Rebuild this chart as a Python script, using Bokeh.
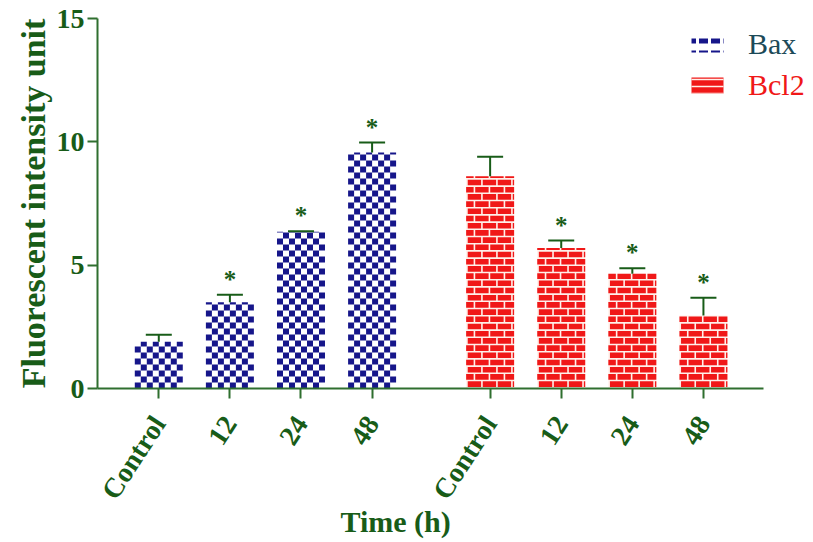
import math
from bokeh.plotting import figure
from bokeh.models import (Range1d, FixedTicker, Whisker, ColumnDataSource, Legend,
                          LegendItem, TeeHead, Title)
from bokeh.core.properties import value
from bokeh.embed import file_html
from bokeh.resources import INLINE

# ---- data ----
times = ["Control", "12", "24", "48"]
bax_mean = [1.9, 3.5, 6.35, 9.57]
bax_err = [0.28, 0.30, 0.03, 0.40]
bax_sig = [False, True, True, True]
bcl2_mean = [8.6, 5.7, 4.65, 2.96]
bcl2_err = [0.80, 0.30, 0.23, 0.72]
bcl2_sig = [False, True, True, True]

# ---- layout / style ----
W, H = 813, 542
LEFT, RIGHT, TOP, BOTTOM = 97, 0, 18, 154
X0, X1 = -0.862, 9.208
Y0, Y1 = 0, 15
GAP = 4.66
BW = 0.675
bax_x = [float(i) for i in range(len(times))]
bcl2_x = [i + GAP for i in range(len(times))]

GREEN = "#185c18"
AXIS_GREEN = "#2f6f2f"
BLUE = "#16168a"
RED = "#f01818"
MORTAR = "#fff0ea"
FONT = "Liberation Serif"

ppx = (W - LEFT - RIGHT) / (X1 - X0)   # pixels per x unit
ppy = (H - TOP - BOTTOM) / (Y1 - Y0)   # pixels per y unit


def checker_cells(xs, tops, cell=6.0):
    """blue squares of a checkerboard fill, clipped to each bar"""
    L, R, B, T = [], [], [], []
    cx, cy = cell / ppx, cell / ppy
    for x, v in zip(xs, tops):
        left = x - BW / 2
        ncol = int(round(BW / cx))
        nrow = int(math.ceil(v / cy))
        for r in range(nrow):
            b = r * cy
            t = min((r + 1) * cy, v)
            for c in range(ncol):
                if (r + c) % 2 == 0:
                    l = left + c * cx
                    L.append(l); R.append(min(l + cx, x + BW / 2)); B.append(b); T.append(t)
    return L, R, B, T


def brick_cells(xs, tops, row=7.2, blen=15.0, mortar=1.6):
    """red bricks of a brick-wall fill, clipped to each bar"""
    L, R, B, T = [], [], [], []
    ry, bx = row / ppy, blen / ppx
    my, mx = mortar / ppy, mortar / ppx
    for x, v in zip(xs, tops):
        left, right = x - BW / 2, x + BW / 2
        nrow = int(math.ceil(v / ry))
        for r in range(nrow):
            b = r * ry + my
            t = min((r + 1) * ry, v)
            if t <= b:
                continue
            off = 0.0 if r % 2 == 0 else bx / 2
            k = 0
            while True:
                s = left - bx + off + k * bx
                if s > right:
                    break
                l, rr = max(s + mx, left), min(s + bx, right)
                if rr > l:
                    L.append(l); R.append(rr); B.append(b); T.append(t)
                k += 1
    return L, R, B, T


p = figure(width=W, height=H, output_backend="svg", toolbar_location=None,
           x_range=Range1d(X0, X1), y_range=Range1d(Y0, Y1),
           min_border_left=LEFT, min_border_right=RIGHT, min_border_top=TOP,
           min_border_bottom=BOTTOM)
p.outline_line_color = None
p.xgrid.visible = False
p.ygrid.visible = False
p.background_fill_color = "white"

bax_src = ColumnDataSource(dict(x=bax_x, top=bax_mean, up=[m + e for m, e in zip(bax_mean, bax_err)]))
bcl2_src = ColumnDataSource(dict(x=bcl2_x, top=bcl2_mean, up=[m + e for m, e in zip(bcl2_mean, bcl2_err)]))

# bars
p.vbar(x="x", top="top", width=BW, source=bax_src, fill_color="white", line_color=None)
l, r, b, t = checker_cells(bax_x, bax_mean)
p.quad(left=l, right=r, bottom=b, top=t, fill_color=BLUE, line_color=None)

p.vbar(x="x", top="top", width=BW, source=bcl2_src, fill_color=MORTAR, line_color=None)
l, r, b, t = brick_cells(bcl2_x, bcl2_mean)
p.quad(left=l, right=r, bottom=b, top=t, fill_color=RED, line_color=None)

# legend-only renderers (patterned swatches)
bax_leg = p.vbar(x="x", top="top", width=BW, source=bax_src, fill_color="white", line_color=None,
                 hatch_pattern='"', hatch_color=BLUE, hatch_weight=5, hatch_scale=12, visible=False)
bcl2_leg1 = p.vbar(x="x", top="top", width=BW, source=bcl2_src, fill_color=RED, line_color=None,
                   hatch_pattern="-", hatch_color=MORTAR, hatch_weight=1.5, hatch_scale=7, visible=False)

# error bars
for src in (bax_src, bcl2_src):
    w = Whisker(base="x", lower="top", upper="up", source=src, line_color=GREEN, line_width=2,
                upper_head=TeeHead(size=26, line_color=GREEN, line_width=2), lower_head=None,
                level="overlay")
    p.add_layout(w)

# significance stars
star_x = [x for x, s in zip(bax_x, bax_sig) if s] + [x for x, s in zip(bcl2_x, bcl2_sig) if s]
star_y = ([m + e for m, e, s in zip(bax_mean, bax_err, bax_sig) if s] +
          [m + e for m, e, s in zip(bcl2_mean, bcl2_err, bcl2_sig) if s])
p.text(x=star_x, y=star_y, text=["*"] * len(star_x), text_font=value(FONT),
       text_font_style="bold", text_font_size="25px", text_color=GREEN,
       text_align="center", text_baseline="bottom", y_offset=-2)

# axes
ticks = bax_x + bcl2_x
p.xaxis.ticker = FixedTicker(ticks=ticks)
p.xaxis.major_label_overrides = {tk: lab for tk, lab in zip(ticks, times + times)}
p.xaxis.major_label_orientation = math.radians(57)
p.xaxis.bounds = (X0, 8.505)
p.yaxis.ticker = FixedTicker(ticks=[0, 5, 10, 15])

for ax in (p.xaxis[0], p.yaxis[0]):
    ax.axis_line_color = AXIS_GREEN
    ax.axis_line_width = 2
    ax.major_tick_line_color = AXIS_GREEN
    ax.major_tick_line_width = 2
    ax.major_tick_out = 10
    ax.major_tick_in = 0
    ax.minor_tick_line_color = None
    ax.major_label_text_font = FONT
    ax.major_label_text_font_style = "bold"
    ax.major_label_text_font_size = "28px"
    ax.major_label_text_color = GREEN
    ax.axis_label_text_font = FONT
    ax.axis_label_text_font_style = "bold"
    ax.axis_label_text_color = GREEN

p.yaxis.axis_label_text_font_size = "34px"
p.xaxis.major_label_standoff = 20
p.yaxis.major_label_standoff = 3
p.yaxis.axis_label = "Fluorescent intensity unit"
p.yaxis.axis_label_standoff = 2

# x-axis title, placed under the first half of the axis as in the reference
xtitle = Title(text="Time (h)", align="left", offset=243, text_font=FONT,
               text_font_style="bold", text_font_size="30px", text_color=GREEN,
               vertical_align="top", standoff=-24)
p.add_layout(xtitle, "below")

leg1 = Legend(items=[LegendItem(label="Bax", renderers=[bax_leg])], location=(590, 327))
leg2 = Legend(items=[LegendItem(label="Bcl2", renderers=[bcl2_leg1])], location=(590, 286))
for lg, col in ((leg1, "#1c4a58"), (leg2, RED)):
    lg.label_text_font = FONT
    lg.label_text_font_size = "30px"
    lg.label_text_color = col
    lg.glyph_width = 40
    lg.glyph_height = 20
    lg.label_standoff = 21
    lg.border_line_color = None
    lg.background_fill_alpha = 0
    lg.padding = 0
    lg.margin = 0
    p.add_layout(lg)

open("out.html", "w").write(file_html(p, INLINE))
